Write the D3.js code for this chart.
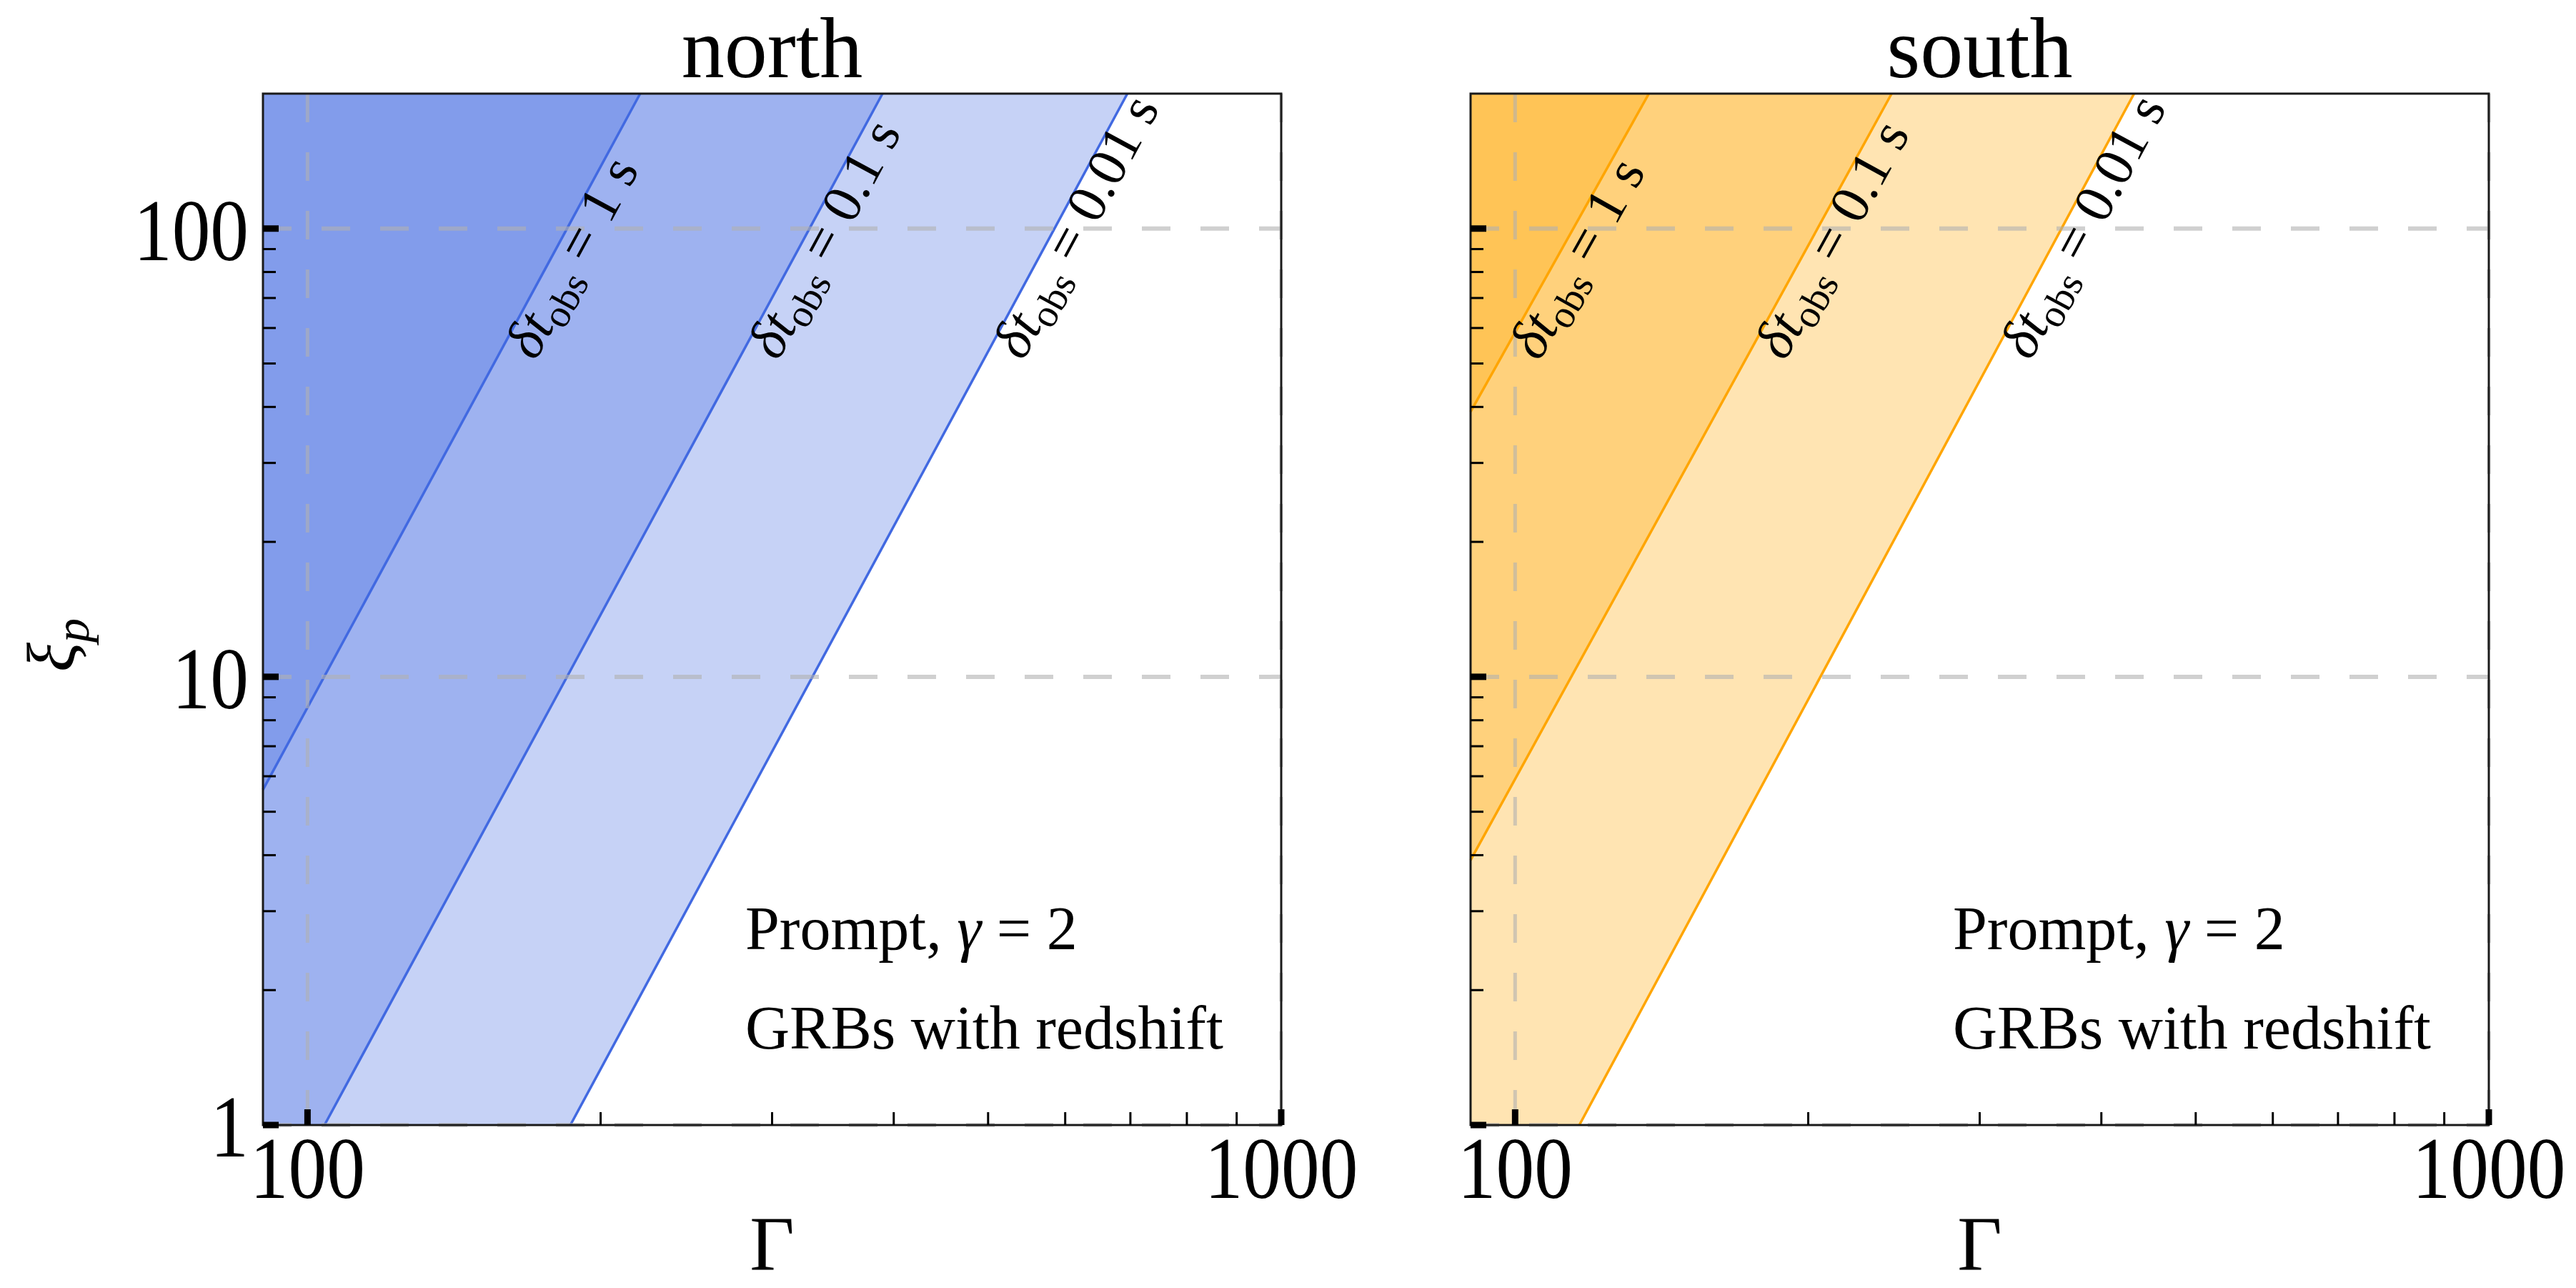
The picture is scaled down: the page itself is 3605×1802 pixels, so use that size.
<!DOCTYPE html>
<meta charset="utf-8">
<title>xi_p against Gamma, north and south</title>
<style>
  body { margin: 0; background: #fff; }
  svg text { font-family: "Liberation Serif", "DejaVu Serif", serif; fill: #000; }
</style>
<svg width="3605" height="1802"></svg>
<script src="https://d3js.org/d3.v7.min.js"></script>
<script>

    // data
    var panelNames = ["north", "south"];
    var dtValues = ["1", "0.1", "0.01"];          // delta t_obs of each line, in s
    // lower and upper end of each line inside the frame, [Gamma, xi_p]
    var northLow  = [[90, 5.6], [104.1, 1], [186.2, 1]];
    var northHigh = [[219.6, 200], [389.5, 200], [695, 200]];
    var southLow  = [[90, 39], [90, 3.9], [116.4, 1]];
    var southHigh = [[137.2, 200], [243.6, 200], [432.2, 200]];
    var xDomain = [90, 1000],
        yDomain = [1, 200];
    var xMajor = [100, 1000],
        xMinor = [200, 300, 400, 500, 600, 700, 800, 900];
    var yMajor = [1, 10, 100],
        yMinor = [2, 3, 4, 5, 6, 7, 8, 9, 20, 30, 40, 50, 60, 70, 80, 90];
    var noteLines = ["Prompt, ", "GRBs with redshift"];

    var lows = [northLow, southLow],
        highs = [northHigh, southHigh],
        colors = ["#4169e1", "#ffa500"];

    // layout
    var panelLeft = [368, 2058],
        plotW = 1425,
        plotTop = 131,
        plotBottom = 1574;

    var svg = d3.select("svg");

    panelNames.forEach(function(name, p) {
        var x0 = panelLeft[p];
        var x = d3.scaleLog().domain(xDomain).range([x0, x0 + plotW]);
        var y = d3.scaleLog().domain(yDomain).range([plotBottom, plotTop]);
        var line = d3.line()
            .x(function(d) { return x(d[0]); })
            .y(function(d) { return y(d[1]); });
        var color = colors[p];

        var g = svg.append("g");

        // shaded bands, each region left of its line
        dtValues.forEach(function(dt, i) {
            var pts = [[xDomain[0], yDomain[0]], lows[p][i], highs[p][i], [xDomain[0], yDomain[1]]];
            g.append("path")
                .attr("d", line(pts) + "Z")
                .attr("fill", color)
                .attr("fill-opacity", 0.3);
        });

        dtValues.forEach(function(dt, i) {
            g.append("path")
                .attr("d", line([lows[p][i], highs[p][i]]))
                .attr("fill", "none")
                .attr("stroke", color)
                .attr("stroke-width", 3.5);
        });

        // dashed grid at the major ticks
        xMajor.forEach(function(v) {
            g.append("line")
                .attr("x1", x(v)).attr("x2", x(v))
                .attr("y1", plotTop).attr("y2", plotBottom)
                .attr("stroke", "#b0b0b0").attr("stroke-opacity", 0.6)
                .attr("stroke-width", 5).attr("stroke-dasharray", "40,42");
        });
        yMajor.forEach(function(v) {
            g.append("line")
                .attr("x1", x0).attr("x2", x0 + plotW)
                .attr("y1", y(v)).attr("y2", y(v))
                .attr("stroke", "#b0b0b0").attr("stroke-opacity", 0.6)
                .attr("stroke-width", 6).attr("stroke-dasharray", "40,42");
        });

        // labels along the lines
        dtValues.forEach(function(dt, i) {
            var a = [x(lows[p][i][0]), y(lows[p][i][1])],
                b = [x(highs[p][i][0]), y(highs[p][i][1])];
            var dx = b[0] - a[0], dy = b[1] - a[1],
                len = Math.sqrt(dx * dx + dy * dy);
            var yy = y(55),
                t = (yy - a[1]) / dy,
                fx = a[0] + t * dx;
            var px = fx + 50 * (-dy / len),
                py = yy + 50 * (dx / len);
            var ang = Math.atan2(dy, dx) * 180 / Math.PI;
            var txt = g.append("text")
                .attr("transform", "translate(" + px + "," + py + ") rotate(" + ang + ")")
                .style("font-size", "78px");
            txt.append("tspan").style("font-style", "italic").text("δt");
            txt.append("tspan").attr("dy", 14).style("font-size", "55px").text("obs");
            txt.append("tspan").attr("dy", -14).text(" = " + dt + " s");
        });

        // note
        var note = g.append("text")
            .attr("x", x0 + 675).attr("y", 1328)
            .style("font-size", "86px");
        note.append("tspan").text(noteLines[0]);
        note.append("tspan").style("font-style", "italic").text("γ");
        note.append("tspan").text(" = 2");
        g.append("text")
            .attr("x", x0 + 675).attr("y", 1467)
            .style("font-size", "86px")
            .text(noteLines[1]);

        // frame
        g.append("rect")
            .attr("x", x0).attr("y", plotTop)
            .attr("width", plotW).attr("height", plotBottom - plotTop)
            .attr("fill", "none").attr("stroke", "#1a1a1a").attr("stroke-width", 3);

        // inward ticks
        yMinor.forEach(function(v) {
            g.append("line")
                .attr("x1", x0).attr("x2", x0 + 18)
                .attr("y1", y(v)).attr("y2", y(v))
                .attr("stroke", "#000").attr("stroke-width", 3);
        });
        yMajor.forEach(function(v) {
            g.append("line")
                .attr("x1", x0).attr("x2", x0 + 22)
                .attr("y1", y(v)).attr("y2", y(v))
                .attr("stroke", "#000").attr("stroke-width", 9);
        });
        xMinor.forEach(function(v) {
            g.append("line")
                .attr("x1", x(v)).attr("x2", x(v))
                .attr("y1", plotBottom).attr("y2", plotBottom - 18)
                .attr("stroke", "#000").attr("stroke-width", 3);
        });
        xMajor.forEach(function(v) {
            g.append("line")
                .attr("x1", x(v)).attr("x2", x(v))
                .attr("y1", plotBottom).attr("y2", plotBottom - 22)
                .attr("stroke", "#000").attr("stroke-width", 9);
        });

        // tick labels, a little narrowed like the original digits
        xMajor.forEach(function(v) {
            g.append("text")
                .attr("transform", "translate(" + x(v) + ",1676) scale(0.88,1)")
                .attr("text-anchor", "middle")
                .style("font-size", "122px")
                .text(v);
        });
        if (p === 0) {
            yMajor.forEach(function(v) {
                g.append("text")
                    .attr("transform", "translate(" + (x0 - 20) + "," + (y(v) + 44) + ") scale(0.88,1)")
                    .attr("text-anchor", "end")
                    .style("font-size", "122px")
                    .text(v);
            });
            var yl = g.append("text")
                .attr("transform", "translate(104," + ((plotTop + plotBottom) / 2 + 50) + ") rotate(-90)")
                .attr("text-anchor", "middle")
                .style("font-size", "96px");
            yl.append("tspan").style("font-style", "italic").text("ξ");
            yl.append("tspan").attr("dy", 20).style("font-style", "italic").style("font-size", "68px").text("p");
        }

        // axis title and panel title
        g.append("text")
            .attr("x", x0 + plotW / 2).attr("y", 1776)
            .attr("text-anchor", "middle")
            .style("font-size", "108px")
            .text("Γ");
        g.append("text")
            .attr("x", x0 + plotW / 2).attr("y", 108)
            .attr("text-anchor", "middle")
            .style("font-size", "120px")
            .text(name);
    });

</script>
